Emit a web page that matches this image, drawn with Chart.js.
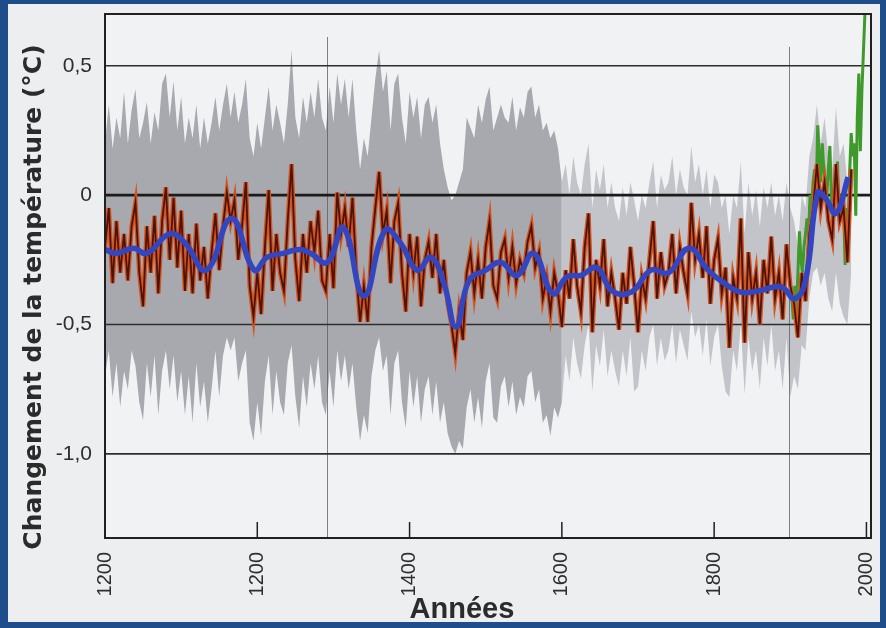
<!DOCTYPE html>
<html>
<head>
<meta charset="utf-8">
<script src="https://cdn.jsdelivr.net/npm/chart.js@4.4.1/dist/chart.umd.min.js"></script>
<style>
  html, body { margin: 0; padding: 0; background: #1f4d8c; }
  canvas { display: block; }
</style>
</head>
<body>
<canvas id="c" width="886" height="628"></canvas>
<script>
// Reconstructed Northern Hemisphere temperature anomaly, 1000–1980 (°C), 5-year steps
const RECON_START = 1000;
const RECON_STEP = 5;
const RECON = [
  -0.20,-0.05,-0.34,-0.10,-0.30,-0.15,-0.33,-0.12,-0.03,-0.30,
  -0.43,-0.12,-0.30,-0.08,-0.38,-0.10, 0.03,-0.25,-0.01,-0.28,
  -0.06,-0.37,-0.15,-0.38,-0.11,-0.33,-0.20,-0.40,-0.22,-0.07,
  -0.29,-0.12, 0.01,-0.10,-0.02,-0.25,-0.12, 0.05,-0.35,-0.47,
  -0.30,-0.46,-0.20, 0.02,-0.37,-0.15,-0.30,-0.37,-0.10, 0.12,
  -0.25,-0.41,-0.15,-0.30,-0.10,-0.22,-0.06,-0.33,-0.37,-0.15,
  -0.36, 0.01,-0.15,-0.05,-0.20,-0.01,-0.30,-0.49,-0.35,-0.49,
  -0.20,-0.05, 0.09,-0.15,-0.06,-0.34,-0.10,-0.03,-0.30,-0.45,
  -0.15,-0.30,-0.16,-0.43,-0.25,-0.18,-0.32,-0.15,-0.38,-0.25,
  -0.42,-0.50,-0.61,-0.45,-0.56,-0.30,-0.22,-0.38,-0.25,-0.40,
  -0.20,-0.10,-0.35,-0.40,-0.22,-0.17,-0.32,-0.20,-0.34,-0.25,
  -0.30,-0.18,-0.12,-0.28,-0.22,-0.40,-0.32,-0.45,-0.30,-0.38,
  -0.51,-0.29,-0.40,-0.17,-0.35,-0.45,-0.20,-0.07,-0.53,-0.25,
  -0.35,-0.17,-0.43,-0.30,-0.40,-0.52,-0.30,-0.42,-0.20,-0.35,
  -0.53,-0.32,-0.40,-0.25,-0.10,-0.40,-0.22,-0.35,-0.30,-0.15,
  -0.38,-0.20,-0.30,-0.38,-0.03,-0.25,-0.15,-0.32,-0.12,-0.42,
  -0.25,-0.17,-0.38,-0.28,-0.59,-0.32,-0.40,-0.09,-0.57,-0.22,
  -0.40,-0.30,-0.50,-0.25,-0.38,-0.16,-0.40,-0.30,-0.48,-0.19,
  -0.35,-0.42,-0.55,-0.30,-0.41,-0.15,-0.05, 0.12,-0.05, 0.05,
  -0.10,-0.17, 0.12,-0.10,-0.05,-0.26, 0.10
];

// Uncertainty envelope, 1000–1600 (wide)
const BAND_EARLY_START = 1000;
const BAND_EARLY_UPPER = [
  0.20,0.35,0.18,0.30,0.22,0.40,0.20,0.33,0.41,0.22,
  0.28,0.36,0.20,0.32,0.25,0.43,0.47,0.30,0.44,0.25,
  0.38,0.20,0.30,0.22,0.35,0.18,0.30,0.20,0.28,0.38,
  0.25,0.35,0.43,0.30,0.40,0.28,0.35,0.45,0.22,0.15,
  0.28,0.18,0.30,0.42,0.25,0.35,0.28,0.20,0.35,0.56,
  0.30,0.22,0.38,0.28,0.40,0.30,0.45,0.30,0.25,0.42,
  0.28,0.47,0.35,0.45,0.30,0.45,0.25,0.10,0.22,0.15,
  0.30,0.45,0.56,0.40,0.48,0.25,0.43,0.47,0.30,0.20,
  0.40,0.30,0.38,0.22,0.35,0.38,0.28,0.35,0.20,0.10,
  0.03,-0.02,0.00,0.05,0.10,0.30,0.26,0.22,0.35,0.28,
  0.37,0.42,0.25,0.30,0.35,0.30,0.28,0.38,0.25,0.34,
  0.30,0.40,0.42,0.30,0.35,0.25,0.28,0.22,0.25,0.18,
  0.05
];
const BAND_EARLY_LOWER = [
  -0.70,-0.60,-0.78,-0.65,-0.82,-0.68,-0.75,-0.60,-0.66,-0.80,
  -0.87,-0.65,-0.78,-0.62,-0.85,-0.68,-0.60,-0.75,-0.62,-0.80,
  -0.68,-0.85,-0.70,-0.88,-0.65,-0.82,-0.72,-0.88,-0.75,-0.60,
  -0.78,-0.62,-0.55,-0.60,-0.55,-0.72,-0.65,-0.60,-0.88,-0.95,
  -0.80,-0.93,-0.72,-0.62,-0.85,-0.68,-0.80,-0.85,-0.65,-0.58,
  -0.78,-0.90,-0.70,-0.82,-0.65,-0.75,-0.62,-0.80,-0.85,-0.68,
  -0.82,-0.60,-0.72,-0.62,-0.75,-0.65,-0.82,-0.95,-0.85,-0.92,
  -0.70,-0.60,-0.55,-0.68,-0.62,-0.85,-0.65,-0.60,-0.80,-0.90,
  -0.68,-0.82,-0.70,-0.88,-0.75,-0.70,-0.85,-0.72,-0.88,-0.80,
  -0.92,-0.97,-1.00,-0.95,-0.98,-0.82,-0.75,-0.88,-0.78,-0.90,
  -0.72,-0.65,-0.86,-0.88,-0.74,-0.70,-0.82,-0.72,-0.85,-0.78,
  -0.82,-0.70,-0.68,-0.80,-0.75,-0.88,-0.85,-0.93,-0.82,-0.86,
  -0.80
];

// Uncertainty envelope, 1600–1980 (narrower)
const BAND_LATE_START = 1600;
const BAND_LATE_UPPER = [
  0.05,0.12,0.00,0.15,0.05,0.00,0.12,0.20,-0.05,0.10,
  0.02,0.12,-0.05,0.05,-0.05,-0.10,0.03,-0.08,0.05,-0.02,
  -0.10,0.00,-0.05,0.05,0.13,-0.05,0.08,0.02,0.05,0.15,
  0.00,0.10,0.03,0.00,0.19,0.05,0.12,0.00,0.10,-0.05,
  0.08,0.05,-0.05,0.00,-0.15,0.00,-0.05,0.13,-0.15,0.05,
  -0.08,0.02,-0.12,0.03,-0.05,0.05,-0.08,0.00,-0.10,0.05,
  -0.05,-0.10,-0.20,0.00,-0.05,0.15,0.22,0.35,0.20,0.30,
  0.15,0.10,0.34,0.15,0.20,0.05,0.25
];
const BAND_LATE_LOWER = [
  -0.80,-0.62,-0.72,-0.55,-0.65,-0.71,-0.58,-0.50,-0.76,-0.58,
  -0.66,-0.52,-0.70,-0.60,-0.68,-0.74,-0.60,-0.70,-0.55,-0.76,
  -0.74,-0.60,-0.68,-0.55,-0.50,-0.66,-0.55,-0.64,-0.60,-0.50,
  -0.65,-0.52,-0.58,-0.64,-0.45,-0.55,-0.50,-0.62,-0.48,-0.66,
  -0.55,-0.50,-0.66,-0.76,-0.78,-0.60,-0.68,-0.50,-0.77,-0.55,
  -0.68,-0.60,-0.75,-0.55,-0.66,-0.50,-0.68,-0.60,-0.75,-0.55,
  -0.78,-0.70,-0.75,-0.58,-0.60,-0.40,-0.30,-0.28,-0.35,-0.30,
  -0.40,-0.45,-0.30,-0.42,-0.47,-0.50,-0.30
];

// Smoothed (low-pass) reconstruction
const SMOOTH_YEARS = [
  1000,1015,1037,1055,1085,1105,1133,1166,1196,1213,1234,1256,1270,1292,1313,1340,
  1368,1388,1410,1428,1445,1461,1478,1500,1520,1541,1563,1588,1607,1625,1646,1666,
  1691,1717,1740,1767,1792,1813,1835,1858,1888,1906,1920,1936,1946,1960,1976
];
const SMOOTH_VALUES = [
  -0.21,-0.225,-0.205,-0.225,-0.15,-0.185,-0.29,-0.09,-0.29,-0.24,-0.225,-0.21,-0.225,-0.26,-0.125,-0.39,
  -0.135,-0.185,-0.29,-0.24,-0.34,-0.51,-0.33,-0.29,-0.26,-0.31,-0.225,-0.38,-0.315,-0.31,-0.28,-0.37,
  -0.375,-0.29,-0.30,-0.205,-0.29,-0.34,-0.375,-0.37,-0.355,-0.40,-0.33,0.01,-0.01,-0.07,0.07
];

// Instrumental record, 1902–1998, 2-year steps
const INSTR_START = 1902;
const INSTR_STEP = 2;
const INSTRUMENTAL = [
  -0.40,-0.48,-0.35,-0.45,-0.30,-0.14,-0.25,-0.30,-0.20,-0.15,
  -0.09,-0.15, 0.00,-0.05, 0.05, 0.10, 0.00, 0.27, 0.15, 0.05,
   0.20, 0.10, 0.05, 0.00, 0.10, 0.19, 0.00,-0.17, 0.05, 0.00,
   0.13,-0.10, 0.00,-0.05,-0.05,-0.27,-0.05,-0.15, 0.09, 0.24,
   0.15, 0.20,-0.08, 0.30, 0.47, 0.17, 0.40, 0.55, 0.70
];

// Axes
const Y_TICKS = [0.5, 0, -0.5, -1.0];
const Y_TICK_LABELS = ['0,5', '0', '-0,5', '-1,0'];
const X_TICKS = [1000, 1200, 1400, 1600, 1800, 2000];
const X_TICK_LABELS = ['1200', '1200', '1400', '1600', '1800', '2000'];
const X_TITLE = 'Années';
const Y_TITLE = 'Changement de la température (°C)';

// Thin vertical rules: [year, top value]
const RULES = [[1291.6, 0.611], [1898.3, 0.573]];

const series = (start, step, vals) => vals.map((v, i) => ({ x: start + i * step, y: v }));
const smooth = SMOOTH_YEARS.map((x, i) => ({ x, y: SMOOTH_VALUES[i] }));

const LINE = { pointRadius: 0, pointHoverRadius: 0, tension: 0, fill: false };

const paperPlugin = {
  id: 'paper',
  beforeDraw(chart) {
    const { ctx, width, height, chartArea: a } = chart;
    ctx.save();
    ctx.fillStyle = '#1f4d8c';
    ctx.fillRect(0, 0, width, height);
    ctx.fillStyle = '#eceef0';
    ctx.fillRect(8, 4, 872, 618);
    ctx.fillStyle = '#f1f2f4';
    ctx.fillRect(a.left, a.top, a.right - a.left, a.bottom - a.top);
    ctx.restore();
  },
  afterDatasetDraw(chart, args) {
    // grid and rules sit above the grey envelope, below the curves
    if (args.index !== 4) return;
    const { ctx, chartArea: a, scales: { x, y } } = chart;
    ctx.save();
    ctx.strokeStyle = 'rgba(90,90,95,0.75)';
    ctx.lineWidth = 1;
    RULES.forEach(([yr, top]) => {
      const px = Math.round(x.getPixelForValue(yr)) + 0.5;
      ctx.beginPath();
      ctx.moveTo(px, y.getPixelForValue(top));
      ctx.lineTo(px, a.bottom);
      ctx.stroke();
    });
    Y_TICKS.forEach(v => {
      const py = y.getPixelForValue(v);
      ctx.beginPath();
      ctx.lineWidth = v === 0 ? 2.6 : 1.7;
      ctx.strokeStyle = v === 0 ? '#1b1b1b' : '#2e2e2e';
      ctx.moveTo(a.left, py);
      ctx.lineTo(a.right, py);
      ctx.stroke();
    });
    ctx.restore();
  },
  afterDraw(chart) {
    const { ctx, chartArea: a, scales: { x } } = chart;
    ctx.save();
    ctx.strokeStyle = '#202020';
    ctx.lineWidth = 2;
    ctx.strokeRect(a.left, a.top, a.right - a.left, a.bottom - a.top);
    ctx.lineWidth = 1.5;
    X_TICKS.slice(1).forEach(v => {
      const px = x.getPixelForValue(v);
      ctx.beginPath();
      ctx.moveTo(px, a.bottom);
      ctx.lineTo(px, a.bottom - 16);
      ctx.stroke();
    });
    ctx.fillStyle = '#2b2b2b';
    ctx.textAlign = 'center';
    ctx.textBaseline = 'middle';
    ctx.font = 'bold 29px "Liberation Sans", Arial, sans-serif';
    ctx.fillText(X_TITLE, 462, 610);
    ctx.translate(34, 297);
    ctx.rotate(-Math.PI / 2);
    ctx.font = 'bold 25px "DejaVu Sans", sans-serif';
    ctx.fillText(Y_TITLE, 0, 0);
    ctx.restore();
  }
};

new Chart(document.getElementById('c'), {
  type: 'line',
  data: {
    datasets: [
      { ...LINE, data: smooth, borderColor: '#3446bf', borderWidth: 5.5, tension: 0.45, order: 0 },
      { ...LINE, data: series(RECON_START, RECON_STEP, RECON), borderColor: '#4a130b', borderWidth: 1.8, order: 1 },
      { ...LINE, data: series(RECON_START, RECON_STEP, RECON), borderColor: '#d4531d', borderWidth: 4.5, order: 2 },
      { ...LINE, data: series(INSTR_START, INSTR_STEP, INSTRUMENTAL), borderColor: '#3e9a2a', borderWidth: 3, order: 3 },
      { ...LINE, data: series(BAND_EARLY_START, RECON_STEP, BAND_EARLY_UPPER), borderWidth: 0, borderColor: 'rgba(0,0,0,0)',
        backgroundColor: '#a8a9af', fill: '+1', order: 10 },
      { ...LINE, data: series(BAND_EARLY_START, RECON_STEP, BAND_EARLY_LOWER), borderWidth: 0, borderColor: 'rgba(0,0,0,0)', order: 11 },
      { ...LINE, data: series(BAND_LATE_START, RECON_STEP, BAND_LATE_UPPER), borderWidth: 0, borderColor: 'rgba(0,0,0,0)',
        backgroundColor: '#c3c4ca', fill: '+1', order: 12 },
      { ...LINE, data: series(BAND_LATE_START, RECON_STEP, BAND_LATE_LOWER), borderWidth: 0, borderColor: 'rgba(0,0,0,0)', order: 13 }
    ]
  },
  options: {
    responsive: false,
    animation: false,
    devicePixelRatio: 1,
    layout: { padding: { top: 14, right: 15, bottom: 0, left: 12 } },
    plugins: { legend: { display: false }, tooltip: { enabled: false } },
    events: [],
    scales: {
      x: {
        type: 'linear',
        min: 1000,
        max: 2006,
        afterBuildTicks: s => { s.ticks = X_TICKS.map(v => ({ value: v })); },
        afterFit: s => { s.height = 90; s.paddingLeft = 0; s.paddingRight = 0; },
        grid: { display: false },
        border: { display: false },
        ticks: {
          autoSkip: false,
          minRotation: 90,
          maxRotation: 90,
          padding: 6,
          color: '#2e2e2e',
          font: { family: '"Liberation Sans", Arial, sans-serif', size: 20 },
          callback: v => X_TICK_LABELS[X_TICKS.indexOf(v)]
        }
      },
      y: {
        min: -1.325,
        max: 0.70,
        afterBuildTicks: s => { s.ticks = Y_TICKS.map(v => ({ value: v })); },
        afterFit: s => { s.width = 93; s.paddingTop = 0; s.paddingBottom = 0; },
        grid: { display: false },
        border: { display: false },
        ticks: {
          padding: 5,
          color: '#2e2e2e',
          font: { family: '"Liberation Sans", Arial, sans-serif', size: 21 },
          callback: v => Y_TICK_LABELS[Y_TICKS.indexOf(v)]
        }
      }
    }
  },
  plugins: [paperPlugin]
});
</script>
</body>
</html>
